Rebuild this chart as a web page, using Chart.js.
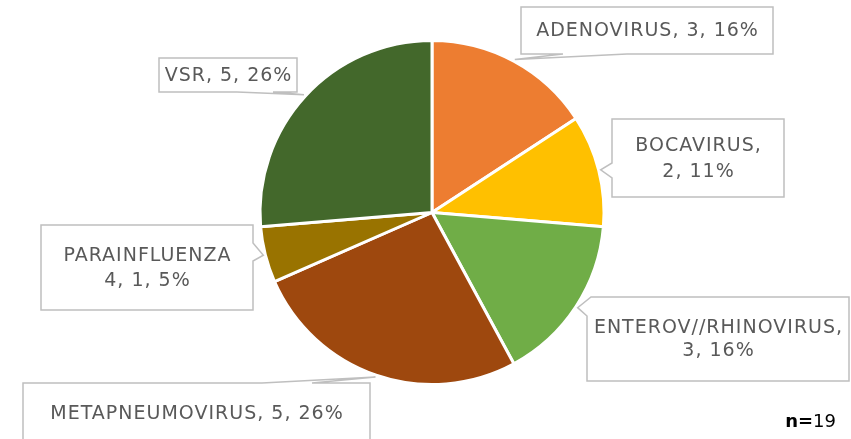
<!DOCTYPE html>
<html>
<head>
<meta charset="utf-8">
<script src="https://cdn.jsdelivr.net/npm/chart.js@4.4.1/dist/chart.umd.min.js"></script>
<style>
    html, body { margin: 0; padding: 0; background: #fff; }
    #wrap { width: 851px; height: 439px; position: relative; }
</style>
</head>
<body>
<div id="wrap"><canvas id="virusChart"></canvas></div>
<script>
const labels = ['ADENOVIRUS', 'BOCAVIRUS', 'ENTEROV//RHINOVIRUS', 'METAPNEUMOVIRUS', 'PARAINFLUENZA 4', 'VSR'];
const values = [3, 2, 3, 5, 1, 5];
const colors = ['#ED7D31', '#FFC000', '#70AD47', '#9E480E', '#997300', '#43682B'];
const total = 19;

// callout boxes: [x1, y1, x2, y2], which side the pointer leaves from, and where
const callouts = [
    { box: [521, 7, 773, 54], side: 'bottom', base: [563, 627], lines: [0] },
    { box: [612, 119, 784, 197], side: 'left', base: [163, 178], lines: [1], gap: 26 },
    { box: [587, 297, 849, 381], side: 'topleft', base: [591, 316], lines: [1], gap: 23 },
    { box: [23, 383, 370, 450], side: 'top', base: [262, 312], lines: [0], textY: 413 },
    { box: [41, 225, 253, 310], side: 'right', base: [243, 261], lines: [1], gap: 25 },
    { box: [159, 58, 297, 92], side: 'bottom', base: [237, 273], lines: [0] }
];

const labelFont = '19px "DejaVu Sans"';

function outline(c, t) {
    const [x1, y1, x2, y2] = c.box;
    const [b0, b1] = c.base;
    switch (c.side) {
        case 'top':
            return [[x1, y1], [b0, y1], t, [b1, y1], [x2, y1], [x2, y2], [x1, y2]];
        case 'bottom':
            return [[x1, y1], [x2, y1], [x2, y2], [b1, y2], t, [b0, y2], [x1, y2]];
        case 'left':
            return [[x1, y1], [x2, y1], [x2, y2], [x1, y2], [x1, b1], t, [x1, b0]];
        case 'right':
            return [[x1, y1], [x2, y1], [x2, b0], t, [x2, b1], [x2, y2], [x1, y2]];
        case 'topleft':
            return [[b0, y1], [x2, y1], [x2, y2], [x1, y2], [x1, b1], t];
    }
}

const calloutPlugin = {
    id: 'callouts',
    afterDatasetsDraw(chart) {
        const ctx = chart.ctx;
        const meta = chart.getDatasetMeta(0);
        ctx.save();
        callouts.forEach((c, i) => {
            const arc = meta.data[i];
            const p = arc.getProps(['x', 'y', 'startAngle', 'endAngle', 'outerRadius'], true);
            const mid = (p.startAngle + p.endAngle) / 2;
            const tip = [p.x + Math.cos(mid) * (p.outerRadius + 2), p.y + Math.sin(mid) * (p.outerRadius + 2)];
            const pts = outline(c, tip);

            ctx.beginPath();
            pts.forEach((pt, k) => k ? ctx.lineTo(pt[0], pt[1]) : ctx.moveTo(pt[0], pt[1]));
            ctx.closePath();
            ctx.fillStyle = '#fff';
            ctx.fill();
            ctx.strokeStyle = '#BFBFBF';
            ctx.lineWidth = 1.5;
            ctx.stroke();

            const pct = Math.round(values[i] / total * 100);
            const words = (labels[i] + ', ' + values[i] + ', ' + pct + '%').split(' ');
            let rows = [words.join(' ')];
            if (c.lines[0] > 0) {
                rows = [words.slice(0, c.lines[0]).join(' '), words.slice(c.lines[0]).join(' ')];
            }
            const cx = (c.box[0] + c.box[2]) / 2;
            const cy = c.textY || (c.box[1] + c.box[3]) / 2;
            const gap = c.gap || 25;
            ctx.font = labelFont;
            ctx.letterSpacing = '1px';
            ctx.textAlign = 'center';
            ctx.textBaseline = 'middle';
            ctx.fillStyle = '#595959';
            rows.forEach((r, k) => {
                ctx.fillText(r, cx + 0.5, cy + 1 + (k - (rows.length - 1) / 2) * gap);
            });
        });

        // n=19
        ctx.letterSpacing = '0px';
        ctx.textAlign = 'left';
        ctx.textBaseline = 'middle';
        ctx.fillStyle = '#000';
        ctx.font = 'bold 18px "DejaVu Sans"';
        const w1 = ctx.measureText('n=').width;
        ctx.font = '18px "DejaVu Sans"';
        const w2 = ctx.measureText(String(total)).width;
        const x0 = 836 - w1 - w2;
        ctx.font = 'bold 18px "DejaVu Sans"';
        ctx.fillText('n=', x0, 422);
        ctx.font = '18px "DejaVu Sans"';
        ctx.fillText(String(total), x0 + w1, 422);
        ctx.restore();
    }
};

const ctx = document.getElementById('virusChart').getContext('2d');
const virusChart = new Chart(ctx, {
    type: 'pie',
    data: {
        labels: labels,
        datasets: [{
            data: values,
            backgroundColor: colors,
            borderColor: '#fff',
            borderWidth: 3
        }]
    },
    options: {
        responsive: true,
        maintainAspectRatio: false,
        animation: false,
        layout: { padding: { left: 13, right: 0, top: 39, bottom: 53 } },
        plugins: {
            legend: { display: false },
            tooltip: { enabled: false }
        }
    },
    plugins: [calloutPlugin]
});
</script>
</body>
</html>
